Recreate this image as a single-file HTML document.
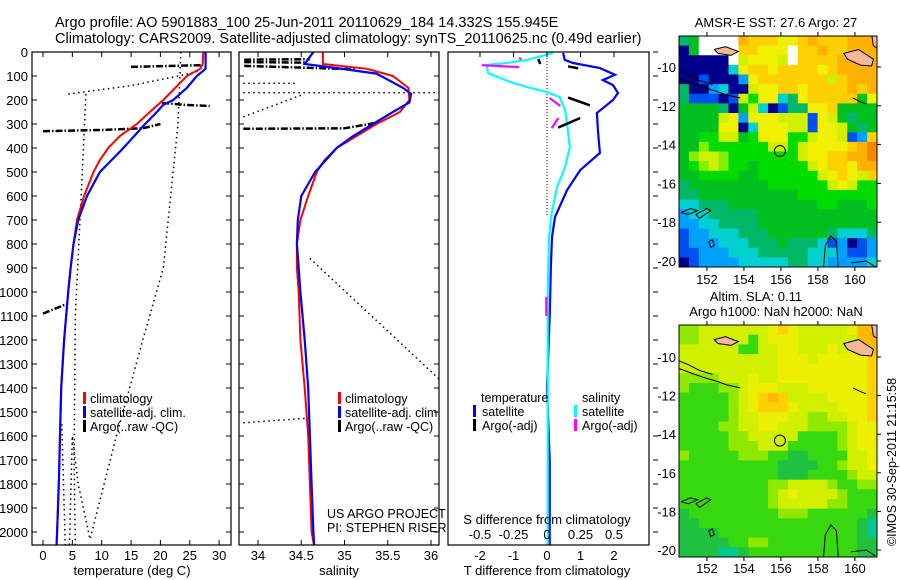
<!DOCTYPE html>
<html><head><meta charset="utf-8"><style>
html,body{margin:0;padding:0;background:#fff}
svg{display:block;font-family:"Liberation Sans",sans-serif}
</style></head><body>
<svg id="fig" xmlns="http://www.w3.org/2000/svg" width="900" height="580" viewBox="0 0 900 580">
<defs>
<clipPath id="c1"><rect x="32" y="52" width="199" height="493"/></clipPath>
<clipPath id="c2"><rect x="239" y="52" width="200" height="493"/></clipPath>
<clipPath id="c3"><rect x="448" y="52" width="201" height="493"/></clipPath>
<clipPath id="m1"><rect x="679" y="36" width="198" height="231"/></clipPath>
<clipPath id="m2"><rect x="679" y="325" width="198" height="232"/></clipPath>
</defs>
<rect x="0" y="0" width="900" height="580" fill="#fff"/>
<text x="55" y="27" font-size="14.5">Argo profile: AO 5901883_100 25-Jun-2011 20110629_184 14.332S 155.945E</text>
<text x="55" y="43" font-size="14.5">Climatology: CARS2009. Satellite-adjusted climatology: synTS_20110625.nc (0.49d earlier)</text>
<g id="p1"></g>
<g id="p2"></g>
<g id="p3"></g>
<g id="map1"></g>
<g id="map2"></g>
<text x="776" y="27" font-size="13" text-anchor="middle">AMSR-E SST: 27.6 Argo: 27</text>
<text x="756" y="301" font-size="13" text-anchor="middle">Altim. SLA: 0.11</text>
<text x="776" y="316" font-size="13" text-anchor="middle">Argo h1000: NaN h2000: NaN</text>
<text transform="translate(896,462) rotate(-90)" text-anchor="middle" font-size="12.5">©IMOS 30-Sep-2011 21:15:58</text>
</svg>
<script>
// ---------- data ----------
const depthClim = [0,50,70,100,150,200,250,300,350,400,450,500,600,700,800,900,1000,1200,1400,1600,1800,2000,2060];
const tempClim  = [27.3,27.2,26.8,24.5,22.5,20.5,18.2,16,13.1,11.1,9.7,8.6,7.0,5.8,5.2,4.7,4.3,3.6,3.1,2.9,2.7,2.4,2.3];
const depthSat  = [0,70,100,150,200,220,250,300,400,500,600,700,800,900,1000,1200,1400,1600,1800,2000,2060];
const tempSat   = [27.7,27.7,26.2,24.5,22.2,20.5,19.4,17.4,13.7,9.7,7.5,6.0,5.2,4.7,4.3,3.6,3.1,2.9,2.7,2.4,2.3];
const salClim   = [34.75,34.75,35.26,35.56,35.74,35.75,35.64,35.37,35.14,34.91,34.77,34.68,34.58,34.49,34.45,34.45,34.47,34.49,34.54,34.58,34.6,34.62,34.65];
const depthSalSat = [0,50,65,90,150,175,210,250,300,350,400,500,600,700,800,900,1000,1200,1400,1600,1800,2000,2060];
const salSat    = [34.64,34.54,34.87,35.37,35.68,35.77,35.75,35.56,35.33,35.1,34.91,34.66,34.5,34.46,34.45,34.47,34.49,34.54,34.58,34.6,34.62,34.64,34.65];
const depthDiffT = [4,33,46,67,95,117,138,171,200,254,325,421,492,575,688,771,879,1100,1400,1700,2060];
const diffTSat   = [0.48,0.53,0.78,1.58,2.03,1.67,1.97,2.12,1.97,1.49,1.52,1.58,0.99,0.6,0.24,0.15,0.12,0.08,0.0,0.08,0.08];
const depthDiffS = [4,33,46,54,88,125,150,167,188,242,325,396,479,563,671,771,1000,1500,2060];
const diffSSat   = [0.045,-0.15,-0.3,-0.45,-0.44,-0.275,-0.125,0,0.095,0.135,0.155,0.17,0.135,0.075,0.035,0.015,0.005,0.005,0.005];
// Argo segments [[value,depth],...]
const argoTemp = [[[15,62],[22,58],[27,55]],[[20.3,212],[24,220],[28.4,225]],[[0,330],[10,325],[17,318],[20,300]],[[0,1090],[4,1050]]];
const argoSal  = [[[33.84,32],[34.6,30]],[[33.84,42],[34.55,44]],[[33.84,58],[35.14,72]],[[33.83,320],[35.0,318],[35.37,295]]];
const argoDiffT = [[[-0.26,30],[-0.2,50]],[[0.63,60],[0.93,68]],[[0.63,190],[1.28,222]],[[0.99,275],[0.33,315]]];
const argoDiffS = [[[-0.485,55],[-0.21,63]],[[-0.21,25],[-0.19,30]],[[0.02,192],[0.1,225]],[[0.085,275],[0.035,317]],[[-0.005,1020],[-0.005,1100]]];
const dotTemp = [[[4.3,175],[15,140],[23.5,98],[26.5,80]],[[7.3,175],[6.5,600],[5.5,1100],[5.3,1700],[5.5,2060]],[[23.5,0],[23,300],[20.5,900],[17,1200],[12.5,1600],[8,2030],[6,1800],[5,1600],[4.5,2060]],[[3.2,1550],[3.5,1800],[3.8,2060]]];
const dotSal = [[[33.83,170],[36.1,170]],[[33.83,130],[34.45,130]],[[33.83,270],[34.5,180]],[[34.6,860],[36.1,1365]],[[33.83,1545],[34.6,1525]]];
const tempTicks = [0,5,10,15,20,25,30];
const salTicks = [34,34.5,35,35.5,36];
const salTickLabels = ["34","34.5","35","35.5","36"];
const diffTTicks = [-2,-1,0,1,2];
const diffSTicks = [-0.5,-0.25,0,0.25,0.5];
const diffSTickLabels = ["-0.5","-0.25","0","0.25","0.5"];
const depthTicks = [0,100,200,300,400,500,600,700,800,900,1000,1100,1200,1300,1400,1500,1600,1700,1800,1900,2000];
const lonTicks = [152,154,156,158,160];
const latTicks = [-10,-12,-14,-16,-18,-20];
const sstGrid = [
"tgWWWWOoooYYoOoooOOO","NgWWWWooYYYWooOooOOO","NNNNNWyYYYyWooooOOOO","NNNNNcYooYooooYoOOOO",
"NNBNNNbYoooooooyoOOO","tNNbcNNyYYooYooooOoO","tBBBNByGYYctYooooogYo","ggggtNgycNBttYYoggggy",
"ggggyYbYYYyyyBYygtgg","ggggYYNcYYYyyBYYygtg","ggGGyygGYYYGGyYYyBbo","gglGGGGGGyyGyYYYYoOR",
"glyylGGGGGGGyYYooOOR","gGlylGGgGGGGGyYooYOO","ggGGGGggGGGGGGyYoYyo","tggggggggGGGGGGyYyGG",
"ttggggggggggGGGGGGGG","cctttgggggggggGGgggG","bcctttttggggggggggggg","bbccttttggggggggggggt",
"BbbccctttggggggtccctT","BbbbccctttgtttcBbNBb","BBbbbccctttttcccbBBbb","NBbbbbcccccttccbbbbc"];
const slaGrid = [
"llyyyyyyyYoYyyyyyYOO","llyyyyyGyYYYyyyyyyOO","yyyyyyGGyyYYyyyYyYoO","yyyyyyyyyyYYYyYYYYYo",
"yyyyyyyyyyYYYYYYYYYo","llllyyyYyyYYYYYYYYYo","lGGGllyYYYyyyYYYYYYo","GGGGGlyYoOoyyyyYYYYo",
"GGGGGlyYoooYyyyyYYYo","GGGGGlyyYYYyyllyyYYo","GGGGllyyYYyyyllllyYY","GGGGGllyyyyyGGGGlyYY",
"GGGGGlllyyyGGGGGlyYY","lGGGGGlllGGggGGGGyyY","GGGGGGGGGGggggGGlyyY","GGGGGGGGGGgggGGGGlyy",
"GGGGGGGGGllyyyylGGll","GGGGGGGGGlyYyyyylGGG","GGGGGGGGGlyyyyyllGGG","gGGGGGGGGGlllGGGGGGg",
"ggGGGGGGGGGGGGGGGGgc","ggggGGGGGGGGGGGGGGgc","gggggGGllGGGGGGGGGgg","ggggccgGGGGGGGGGGGgg"];
const sstColors = {W:"#ffffff",N:"#00008c",B:"#0050f0",b:"#00a0ff",c:"#00d0d0",t:"#00b868",T:"#00b868",g:"#00c020",G:"#00dc00",l:"#80f000",y:"#d0f000",Y:"#f0f000",o:"#ffd000",O:"#ffb000",R:"#f08800"};
const slaColors = {c:"#00c890",g:"#20c040",G:"#38d810",l:"#90e800",y:"#d0f000",Y:"#ecf000",o:"#ffd000",O:"#ffb800"};
const argoLon = 155.945, argoLat = -14.332;

// ---------- helpers ----------
const NS="http://www.w3.org/2000/svg";
function mk(parent, tag, attrs){const e=document.createElementNS(NS,tag);for(const k in attrs)e.setAttribute(k,attrs[k]);parent.appendChild(e);return e;}
const dy = d => 52 + 0.24*d;
const tx = T => 43 + 5.87*T;
const sx = S => 258 + 86.5*(S-34);
const dtx = v => 547 + 33.5*v;
const dsx = v => 547 + 134*v;
const mx = lon => 679 + (lon-150.49)*18.5;
const my1 = lat => 67 + (-10-lat)*19.4;
const my2 = lat => 357 + (-10-lat)*19.3;

function poly(g, xs, ds, fx, color, w, name, dash){
  const pts = xs.map((v,i)=>fx(v).toFixed(1)+","+dy(ds[i]).toFixed(1)).join(" ");
  const e = mk(g,"polyline",{points:pts,fill:"none",stroke:color,"stroke-width":w});
  if(dash) e.setAttribute("stroke-dasharray",dash);
  
  
  return e;
}
function segs(g, list, fx, color, w, name, dash){
  list.forEach(s=>{
    poly(g, s.map(p=>p[0]), s.map(p=>p[1]), fx, color, w, name, dash);
  });
}
function frame(g, x, w, name){
  const r = mk(g,"rect",{x:x,y:52,width:w,height:493,fill:"none",stroke:"#000","stroke-width":1.2});
  
  
}
function depthTicksDraw(g, x0, x1, labels){
  depthTicks.forEach(d=>{
    const y=dy(d);
    const t1 = mk(g,"line",{x1:x0,y1:y,x2:x0+5,y2:y,stroke:"#000"});
    
    
    const t2 = mk(g,"line",{x1:x1-5,y1:y,x2:x1,y2:y,stroke:"#000"});
    
    
    if(labels){
      const t = mk(g,"text",{x:28,y:y+5,"text-anchor":"end","font-size":13});
      t.textContent = d;
      
      
    }
  });
}
function xTicks(g, vals, labs, fx, ly, top, bottom){
  vals.forEach((v,i)=>{
    const x=fx(v);
    if(top){const a=mk(g,"line",{x1:x,y1:52,x2:x,y2:57,stroke:"#000"});}
    if(bottom){const b=mk(g,"line",{x1:x,y1:540,x2:x,y2:545,stroke:"#000"});}
    const t=mk(g,"text",{x:x,y:ly,"text-anchor":"middle","font-size":13});
    t.textContent = labs[i];
    
    
  });
}
function txt(g, x, y, s, size, name, anchor){
  const t=mk(g,"text",{x:x,y:y,"font-size":size});
  if(anchor) t.setAttribute("text-anchor",anchor);
  t.textContent=s;
  
  
  return t;
}
function legBar(g, x, y, color, name){
  const r=mk(g,"rect",{x:x,y:y-11,width:3,height:12,fill:color});
  
  
}

// ---------- panel 1 ----------
const p1=document.getElementById("p1");
const c1=mk(p1,"g",{"clip-path":"url(#c1)"});
segs(c1, dotTemp, tx, "#000", 1.5, "temperature-range-dotted", "1.5,3.5");
segs(c1, argoTemp, tx, "#000", 2.5, "argo-temperature", "7,2,1.5,2");
poly(c1, tempClim, depthClim, tx, "#f00", 2, "climatology-temperature-line");
poly(c1, tempSat, depthSat, tx, "#00f", 2.2, "satellite-temperature-line");
frame(p1, 32, 199, "temperature-frame");
depthTicksDraw(p1, 32, 231, true);
xTicks(p1, tempTicks, tempTicks.map(String), tx, 560, true, true);
txt(p1, 132, 575, "temperature (deg C)", 13, "temperature-axis-title", "middle");
legBar(p1, 83, 403, "#f00", "legend-climatology-swatch"); txt(p1, 90, 403, "climatology", 12.5, "legend-climatology");
legBar(p1, 83, 417, "#00f", "legend-satellite-swatch"); txt(p1, 90, 417, "satellite-adj. clim.", 12.5, "legend-satellite");
legBar(p1, 83, 431, "#000", "legend-argo-swatch"); txt(p1, 90, 431, "Argo(..raw -QC)", 12.5, "legend-argo");

// ---------- panel 2 ----------
const p2=document.getElementById("p2");
const c2=mk(p2,"g",{"clip-path":"url(#c2)"});
segs(c2, dotSal, sx, "#000", 1.5, "salinity-range-dotted", "1.5,3.5");
segs(c2, argoSal, sx, "#000", 2.5, "argo-salinity", "7,2,1.5,2");
poly(c2, salClim, depthClim, sx, "#f00", 2, "climatology-salinity-line");
poly(c2, salSat, depthSalSat, sx, "#00f", 2.2, "satellite-salinity-line");
frame(p2, 239, 200, "salinity-frame");
depthTicksDraw(p2, 239, 439, false);
xTicks(p2, salTicks, salTickLabels, sx, 560, true, true);
txt(p2, 339, 575, "salinity", 13, "salinity-axis-title", "middle");
legBar(p2, 338, 403, "#f00", "legend-climatology-swatch"); txt(p2, 345, 403, "climatology", 12.5, "legend-climatology");
legBar(p2, 338, 417, "#00f", "legend-satellite-swatch"); txt(p2, 345, 417, "satellite-adj. clim.", 12.5, "legend-satellite");
legBar(p2, 338, 431, "#000", "legend-argo-swatch"); txt(p2, 345, 431, "Argo(..raw -QC)", 12.5, "legend-argo");
txt(p2, 327, 518, "US ARGO PROJECT", 12.5, "project-label");
txt(p2, 327, 532, "PI: STEPHEN RISER", 12.5, "pi-label");

// ---------- panel 3 ----------
const p3=document.getElementById("p3");
const c3=mk(p3,"g",{"clip-path":"url(#c3)"});
const zl=mk(c3,"line",{x1:dtx(0),y1:52,x2:dtx(0),y2:dy(680),stroke:"#000","stroke-dasharray":"1,2"});


poly(c3, diffTSat, depthDiffT, dtx, "#00f", 2.2, "satellite-temperature-difference");
poly(c3, diffSSat, depthDiffS, dsx, "#0ff", 2.2, "satellite-salinity-difference");
segs(c3, argoDiffT, dtx, "#000", 2.5, "argo-temperature-difference");
segs(c3, argoDiffS, dsx, "#f0f", 2.2, "argo-salinity-difference");
frame(p3, 448, 201, "difference-frame");
depthTicks.forEach(d=>{const l=mk(p3,"line",{x1:653,y1:dy(d),x2:658,y2:dy(d),stroke:"#000"});});
xTicks(p3, diffTTicks, diffTTicks.map(String), dtx, 560, true, false);
xTicks(p3, diffSTicks, diffSTickLabels, dsx, 539, false, false);
txt(p3, 547, 575, "T difference from climatology", 13, "t-difference-axis-title", "middle");
txt(p3, 547, 524, "S difference from climatology", 13, "s-difference-axis-title", "middle");
txt(p3, 481, 402, "temperature", 12.5, "legend-temperature-heading");
legBar(p3, 473, 416, "#00f", "legend-t-satellite-swatch"); txt(p3, 482, 416, "satellite", 12.5, "legend-t-satellite");
legBar(p3, 473, 430, "#000", "legend-t-argo-swatch"); txt(p3, 482, 430, "Argo(-adj)", 12.5, "legend-t-argo");
txt(p3, 582, 402, "salinity", 12.5, "legend-salinity-heading");
legBar(p3, 574, 416, "#0ff", "legend-s-satellite-swatch"); txt(p3, 582, 416, "satellite", 12.5, "legend-s-satellite");
legBar(p3, 574, 430, "#f0f", "legend-s-argo-swatch"); txt(p3, 582, 430, "Argo(-adj)", 12.5, "legend-s-argo");

// ---------- maps ----------
const landPolys = [
 [[159.4,-9.3],[160.2,-9.1],[161.0,-9.6],[160.9,-9.95],[160.3,-9.9],[159.6,-9.6]],
 [[160.9,-8.3],[161.3,-8.3],[161.3,-9.1],[161.0,-8.9]],
 [[152.4,-9.1],[153.0,-8.95],[153.7,-9.2],[153.3,-9.4],[152.6,-9.3]]
];
const coastLines = [
 [[150.5,-10.6],[151.2,-10.85],[151.8,-11.05],[152.5,-11.25],[153.1,-11.45],[153.8,-11.6]],
 [[150.5,-10.2],[151.0,-10.4],[151.6,-10.7],[152.3,-10.9]],
 [[150.6,-17.5],[151.1,-17.3],[151.5,-17.4],[151.0,-17.6],[150.6,-17.5]],
 [[151.4,-17.6],[152.0,-17.3],[152.2,-17.4],[151.6,-17.8],[151.4,-17.6]],
 [[152.1,-19.0],[152.3,-18.9],[152.4,-19.2],[152.2,-19.3],[152.1,-19.0]],
 [[158.3,-20.4],[158.4,-19.2],[158.7,-18.7],[159.0,-19.0],[159.1,-20.4]],
 [[159.8,-20.1],[160.6,-20.0],[161.1,-20.3]],
 [[159.9,-11.6],[160.3,-11.8],[160.6,-11.9]]
];
function drawMap(id, grid, colors, top, h, myf, clip, lonLabelY){
  const g=document.getElementById(id);
  const cg=mk(g,"g",{"clip-path":"url("+clip+")"});
  const rows=grid.length, cols=20, cw=198/cols, ch=h/rows;
  grid.forEach((row,r)=>{
    for(let c=0;c<cols;c++){
      const k=row[c]||row[row.length-1];
      const cell=mk(cg,"rect",{x:(679+c*cw).toFixed(2),y:(top+r*ch).toFixed(2),width:(cw+0.6).toFixed(2),height:(ch+0.6).toFixed(2),fill:colors[k]||"#00c020"});
      
      
    }
  });
  landPolys.forEach(p=>{
    const e=mk(cg,"polygon",{points:p.map(q=>mx(q[0]).toFixed(1)+","+myf(q[1]).toFixed(1)).join(" "),fill:"#f4b898",stroke:"#000","stroke-width":1});
    
    
  });
  coastLines.forEach(p=>{
    const e=mk(cg,"polyline",{points:p.map(q=>mx(q[0]).toFixed(1)+","+myf(q[1]).toFixed(1)).join(" "),fill:"none",stroke:"#000","stroke-width":1});
    
    
  });
  const circ=mk(cg,"circle",{cx:mx(argoLon),cy:myf(argoLat),r:5.5,fill:"none",stroke:"#000","stroke-width":1});
  
  
  const fr=mk(g,"rect",{x:679,y:top,width:198,height:h,fill:"none",stroke:"#000","stroke-width":1});
  
  
  lonTicks.forEach(l=>{
    const x=mx(l);
    const a=mk(g,"line",{x1:x,y1:top+h,x2:x,y2:top+h+4,stroke:"#000"});
    
    const b=mk(g,"line",{x1:x,y1:top-4,x2:x,y2:top,stroke:"#000"});
    
    txt(g, x, lonLabelY, String(l), 13, "lon-tick-label", "middle");
  });
  latTicks.forEach(l=>{
    const y=myf(l);
    const a=mk(g,"line",{x1:877,y1:y,x2:881,y2:y,stroke:"#000"});
    
    txt(g, 676, y+5, String(l), 13, "lat-tick-label", "end");
  });
}
drawMap("map1", sstGrid, sstColors, 36, 231, my1, "#m1", 284);
drawMap("map2", slaGrid, slaColors, 325, 232, my2, "#m2", 573);
</script>
</body></html>
